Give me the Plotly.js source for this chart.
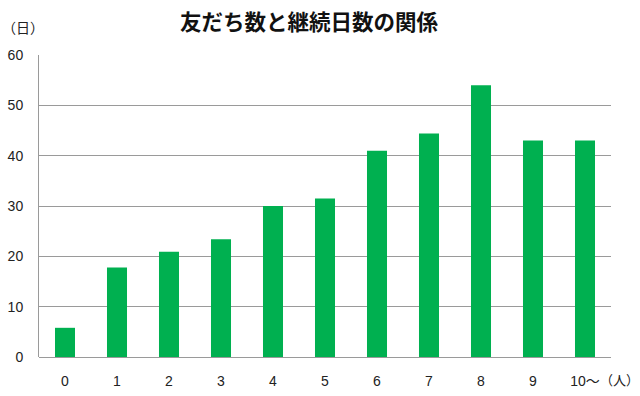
<!DOCTYPE html>
<html><head><meta charset="utf-8">
<script src="https://cdn.plot.ly/plotly-3.0.1.min.js"></script>
<style>html,body{margin:0;padding:0;background:#fff}#chart{width:640px;height:396px}</style>
</head><body><div id="chart"></div>
<script>
const categories = ["0","1","2","3","4","5","6","7","8","9","10～"];
const days = [5.8, 17.8, 20.9, 23.4, 30.0, 31.5, 41.0, 44.4, 54.0, 43.0, 43.0];
const yTicks = [0,10,20,30,40,50,60];
const titleText = "友だち数と継続日数の関係";
const yUnit = "（日）";
const xUnit = "（人）";

const trace = {type:"bar", x:categories, y:days, marker:{color:"#00B050"}, hoverinfo:"none"};
const layout = {
  width:640, height:396,
  margin:{l:39, r:29, t:55, b:39},
  paper_bgcolor:"#fff", plot_bgcolor:"#fff",
  bargap:0.615,
  showlegend:false,
  title:{text:"<b>"+titleText+"</b>", xref:"paper", x:0.472, xanchor:"center", yref:"container", y:0.943, yanchor:"middle",
    font:{family:"Noto Sans CJK JP", size:21.5, color:"#111"}},
  xaxis:{type:"category", tickvals:categories, ticktext:categories, showgrid:false, zeroline:false,
    showline:false, ticks:"", ticklen:0, ticklabelstandoff:14,
    tickfont:{family:"Liberation Sans, Noto Sans CJK JP", size:14, color:"#222"}},
  yaxis:{range:[0,60], tickvals:yTicks, showgrid:true, gridcolor:"#9a9a9a", gridwidth:1,
    zeroline:true, zerolinecolor:"#9a9a9a", zerolinewidth:1, showline:true, linecolor:"#9a9a9a", linewidth:1,
    ticks:"", ticklabelstandoff:12, tickfont:{family:"Liberation Sans", size:14, color:"#222"}},
  annotations:[
    {text:yUnit, xref:"paper", yref:"paper", x:-0.068, y:1.093, xanchor:"left", yanchor:"middle", showarrow:false,
     font:{family:"Noto Sans CJK JP", size:14, color:"#222"}},
    {text:xUnit, xref:"paper", yref:"paper", x:1.0507, y:-0.076, xanchor:"right", yanchor:"middle", showarrow:false,
     borderpad:0, font:{family:"Noto Sans CJK JP", size:13, color:"#222"}}
  ]
};
Plotly.newPlot("chart",[trace],layout,{displayModeBar:false, staticPlot:true});
</script></body></html>
